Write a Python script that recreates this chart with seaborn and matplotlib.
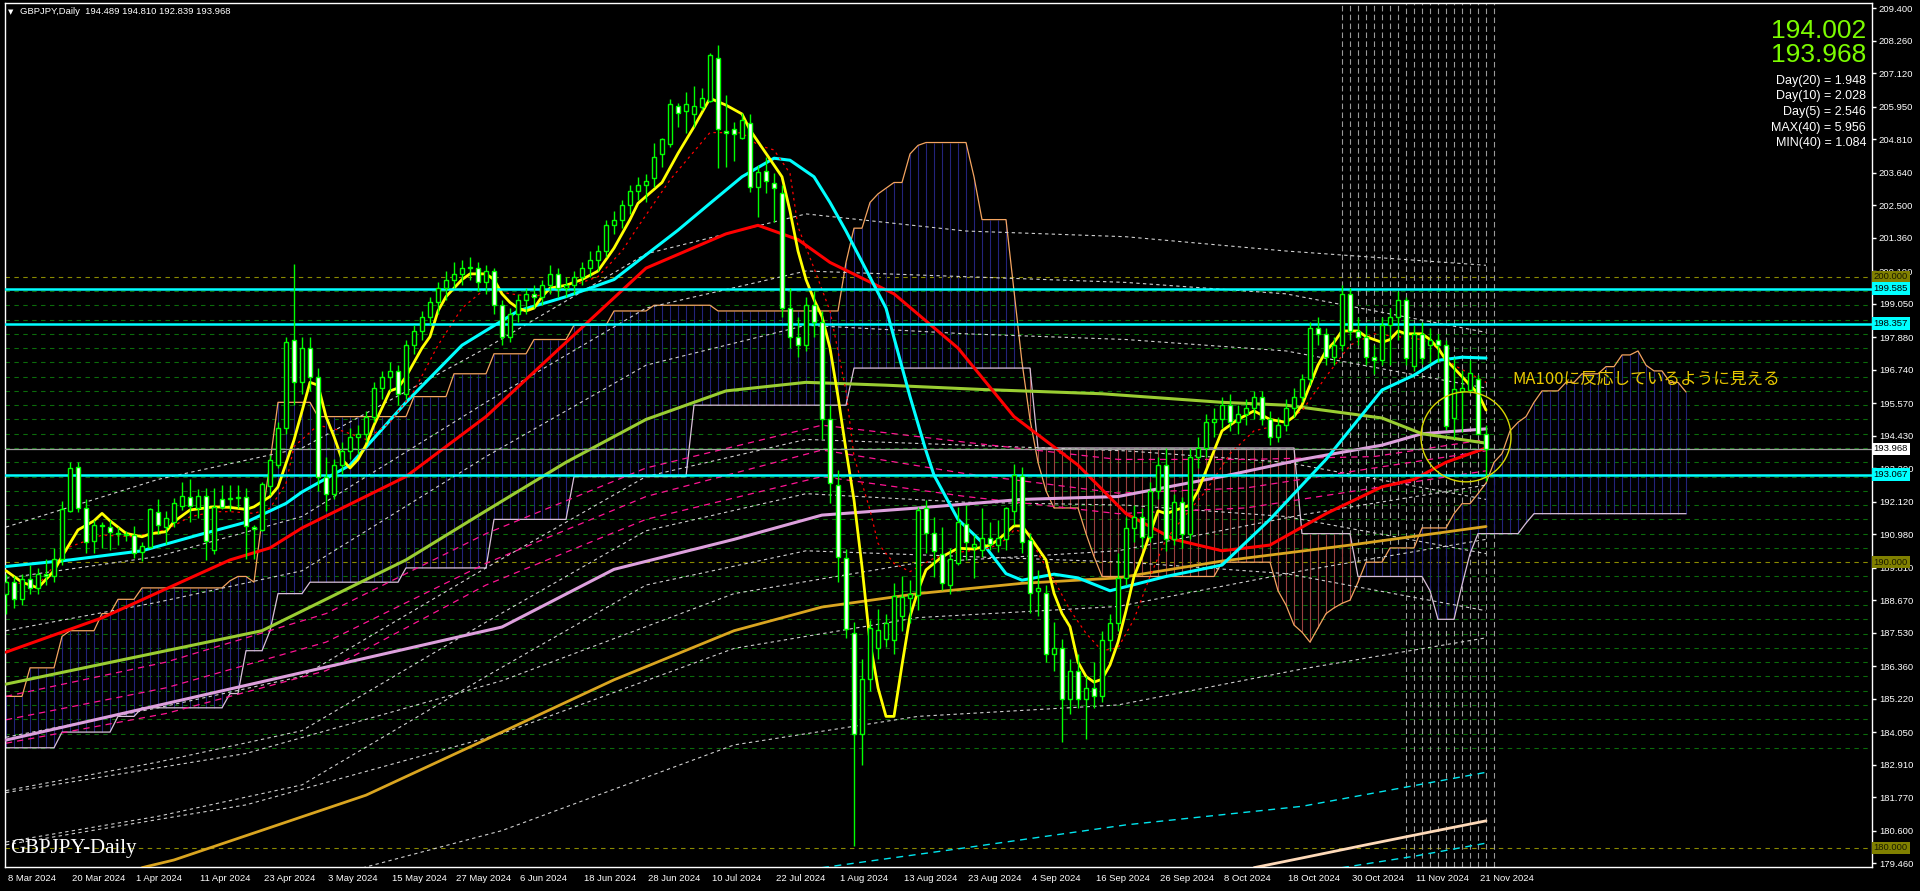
import numpy as np
import pandas as pd
import matplotlib
matplotlib.use("Agg")
import matplotlib.pyplot as plt
import seaborn as sns
from matplotlib.patches import Ellipse
from matplotlib.transforms import ScaledTranslation

sns.set_theme(style="dark")
plt.rcParams['font.family'] = ['Liberation Sans', 'Noto Sans CJK JP', 'DejaVu Sans']

# ---------------- candles (one row per daily bar, 8 Mar .. 22 Nov 2024) ----------------
opens = [188.90, 189.30, 188.70, 189.40, 189.10, 189.60, 189.50, 190.10, 191.80, 193.32,
         191.89, 190.75, 191.32, 191.24, 191.00, 190.98, 190.95, 190.37, 190.54, 191.77,
         191.24, 191.42, 191.98, 192.27, 191.89, 192.33, 190.43, 192.20, 192.22, 192.25,
         192.27, 191.25, 191.13, 192.67, 193.40, 194.69, 197.80, 196.32, 197.50, 196.50,
         193.00, 192.40, 193.40, 193.90, 194.40, 194.50, 195.10, 196.10, 196.50, 196.70,
         195.90, 197.60, 198.10, 198.60, 199.10, 199.60, 199.90, 200.10, 200.30, 200.30,
         199.80, 200.20, 199.00, 197.90, 198.70, 199.20, 199.40, 199.30, 199.70, 200.10,
         199.60, 199.70, 200.00, 200.30, 200.60, 200.90, 201.80, 202.00, 202.50, 203.00,
         203.20, 203.45, 204.30, 204.65, 205.99, 205.80, 205.69, 205.93, 206.17, 207.66,
         205.10, 205.16, 204.87, 205.37, 203.13, 203.72, 203.27, 202.94, 198.90, 197.90,
         197.60, 199.00, 198.40, 195.00, 192.70, 190.14, 187.51, 184.00, 185.90, 186.98,
         187.30, 187.28, 188.13, 188.73, 188.85, 191.89, 191.03, 190.28, 189.21, 189.98,
         191.34, 190.54, 190.43, 190.84, 190.60, 190.80, 191.80, 193.02, 190.78, 188.99,
         188.93, 186.80, 187.00, 185.20, 186.20, 185.20, 185.60, 185.30, 187.28, 187.86,
         189.43, 191.20, 191.60, 190.90, 192.50, 193.40, 190.80, 192.10, 191.00, 193.70,
         194.00, 194.90, 195.00, 195.50, 194.90, 195.20, 195.40, 195.80, 195.00, 194.40,
         194.80, 195.40, 195.80, 196.40, 198.20, 198.00, 197.20, 197.60, 199.40, 198.10,
         197.90, 197.20, 197.08, 198.30, 198.60, 199.20, 196.87, 198.00, 197.60, 197.80,
         197.60, 195.04, 196.01, 196.03, 196.41, 194.489]
highs = [189.60, 189.50, 189.60, 189.90, 189.80, 190.10, 190.50, 192.16, 193.52, 193.50,
         192.21, 191.48, 191.40, 191.48, 191.24, 191.10, 191.28, 190.70, 191.90, 192.20,
         191.78, 192.24, 192.80, 192.90, 192.55, 192.60, 192.60, 192.70, 192.70, 192.70,
         192.60, 191.30, 192.80, 193.75, 194.92, 197.90, 200.45, 197.90, 197.90, 196.80,
         193.70, 193.60, 194.20, 194.70, 194.80, 195.30, 196.30, 196.70, 197.00, 196.90,
         197.80, 198.30, 198.80, 199.30, 199.80, 200.20, 200.50, 200.60, 200.70, 200.50,
         200.40, 200.30, 199.20, 198.90, 199.40, 199.60, 199.70, 199.90, 200.40, 200.30,
         200.00, 200.20, 200.50, 200.90, 201.10, 202.00, 202.30, 202.70, 203.20, 203.50,
         203.60, 204.69, 204.87, 206.21, 206.10, 206.48, 206.68, 206.60, 207.85, 208.12,
         206.36, 205.43, 205.74, 205.69, 203.91, 204.20, 203.62, 203.20, 199.60, 198.60,
         199.30, 199.50, 198.80, 195.50, 193.23, 190.45, 187.90, 186.60, 187.97, 188.35,
         188.20, 189.26, 189.50, 189.38, 191.95, 192.18, 191.60, 191.24, 190.50, 191.95,
         192.00, 190.95, 191.89, 191.42, 191.48, 191.95, 193.44, 193.32, 191.01, 189.73,
         189.20, 187.90, 187.30, 186.60, 186.80, 186.00, 186.50, 187.60, 188.20, 190.31,
         191.60, 192.00, 191.90, 192.80, 193.70, 194.00, 192.40, 192.30, 194.00, 194.40,
         195.20, 195.40, 195.80, 195.90, 195.50, 195.70, 196.00, 196.00, 195.30, 195.10,
         195.70, 196.10, 196.60, 198.40, 198.60, 198.20, 197.90, 199.70, 199.60, 198.60,
         198.30, 197.60, 198.60, 198.90, 199.50, 199.30, 198.30, 198.40, 198.20, 198.00,
         197.80, 197.14, 196.73, 197.08, 196.56, 194.810]
lows = [188.20, 188.40, 188.50, 188.90, 188.90, 189.20, 189.30, 189.90, 191.77, 191.75,
        190.33, 190.31, 190.50, 190.43, 190.60, 190.75, 190.14, 190.05, 190.48, 191.00,
        190.65, 191.24, 191.83, 191.42, 191.55, 190.07, 190.30, 191.85, 191.80, 191.90,
        190.10, 190.10, 191.10, 192.35, 193.29, 194.50, 195.50, 195.90, 196.00, 192.50,
        191.80, 192.20, 193.10, 193.60, 193.80, 194.20, 194.90, 195.70, 196.00, 195.50,
        195.70, 197.30, 197.80, 198.30, 198.70, 199.20, 199.60, 199.70, 199.90, 199.50,
        199.40, 198.70, 197.60, 197.70, 198.40, 198.70, 198.90, 199.00, 199.40, 199.30,
        199.30, 199.40, 199.70, 200.00, 200.20, 200.70, 201.50, 201.70, 202.20, 202.70,
        202.60, 203.15, 203.85, 204.55, 205.25, 205.02, 205.25, 205.84, 206.13, 203.80,
        203.83, 204.06, 204.82, 202.98, 202.10, 202.92, 201.93, 198.60, 197.50, 197.20,
        197.40, 197.90, 194.30, 192.06, 189.32, 187.33, 180.06, 182.90, 185.50, 186.60,
        187.04, 186.80, 187.60, 187.86, 188.33, 190.31, 189.49, 189.03, 188.90, 189.90,
        190.08, 189.43, 190.19, 190.43, 190.37, 190.43, 191.30, 190.31, 188.21, 188.10,
        186.50, 186.20, 183.70, 184.70, 184.90, 183.80, 184.90, 185.10, 186.90, 187.60,
        189.20, 190.70, 190.50, 190.70, 192.20, 190.40, 190.60, 190.50, 190.80, 193.30,
        193.70, 194.40, 194.70, 194.60, 194.50, 194.80, 195.00, 194.80, 194.10, 194.20,
        194.60, 195.10, 195.60, 196.20, 197.60, 196.90, 196.90, 197.40, 197.80, 197.60,
        196.90, 196.60, 196.90, 196.90, 197.80, 196.90, 196.70, 196.95, 197.00, 197.00,
        194.63, 194.34, 194.57, 195.92, 194.52, 192.839]
closes = [189.30, 188.70, 189.40, 189.10, 189.60, 189.50, 190.10, 191.85, 193.30, 191.89,
          190.72, 191.30, 191.28, 191.07, 190.98, 190.95, 190.31, 190.57, 191.85, 191.30,
          191.55, 192.08, 192.33, 191.98, 192.33, 190.75, 191.92, 191.94, 192.26, 192.28,
          191.27, 191.18, 192.73, 193.58, 194.71, 197.70, 196.32, 197.50, 196.50, 193.00,
          192.40, 193.40, 193.90, 194.40, 194.50, 195.10, 196.10, 196.50, 196.70, 195.90,
          197.60, 198.10, 198.60, 199.10, 199.60, 199.90, 200.10, 200.30, 200.30, 199.80,
          200.20, 199.00, 197.90, 198.70, 199.20, 199.40, 199.30, 199.70, 200.10, 199.60,
          199.70, 200.00, 200.30, 200.60, 200.90, 201.80, 202.00, 202.50, 203.00, 203.20,
          203.35, 204.20, 204.81, 206.05, 205.72, 206.05, 205.98, 206.25, 207.75, 205.17,
          205.05, 205.00, 205.49, 203.13, 203.66, 203.35, 203.10, 198.90, 197.90, 197.60,
          199.00, 198.40, 195.00, 192.76, 190.17, 187.65, 184.00, 185.90, 187.68, 187.63,
          187.86, 188.83, 188.79, 188.87, 191.83, 191.01, 190.39, 189.26, 190.11, 191.42,
          190.72, 190.65, 190.84, 190.63, 190.84, 191.89, 193.05, 190.72, 188.91, 189.10,
          186.80, 187.00, 185.20, 186.20, 185.20, 185.60, 185.30, 187.28, 187.86, 189.43,
          191.20, 191.60, 190.90, 192.50, 193.40, 190.80, 192.10, 191.00, 193.70, 194.00,
          194.90, 195.00, 195.50, 194.90, 195.20, 195.40, 195.80, 195.00, 194.40, 194.80,
          195.40, 195.80, 196.40, 198.20, 198.00, 197.20, 197.60, 199.40, 198.10, 197.90,
          197.20, 197.10, 198.30, 198.60, 199.20, 197.14, 198.00, 197.14, 197.80, 197.60,
          194.77, 196.06, 196.09, 196.64, 194.489, 193.968]

date_labels = ["8 Mar 2024", "20 Mar 2024", "1 Apr 2024", "11 Apr 2024", "23 Apr 2024",
               "3 May 2024", "15 May 2024", "27 May 2024", "6 Jun 2024", "18 Jun 2024",
               "28 Jun 2024", "10 Jul 2024", "22 Jul 2024", "1 Aug 2024", "13 Aug 2024",
               "23 Aug 2024", "4 Sep 2024", "16 Sep 2024", "26 Sep 2024", "8 Oct 2024",
               "18 Oct 2024", "30 Oct 2024", "11 Nov 2024", "21 Nov 2024"]
price_ticks = [209.400, 208.260, 207.120, 205.950, 204.810, 203.640, 202.500, 201.360,
               200.190, 199.050, 197.880, 196.740, 195.570, 194.430, 193.290, 192.120,
               190.980, 189.810, 188.670, 187.530, 186.360, 185.220, 184.050, 182.910,
               181.770, 180.600, 179.460]

# ---------------- moving averages, read at sample bars ----------------
ma5_bar = [0, 2, 4, 5, 6, 7, 9, 11, 12, 13, 15, 17, 18, 20, 21, 23, 26, 28, 30, 31, 33, 34,
           35, 36, 38, 39, 40, 41, 42, 43, 44, 45, 46, 47, 48, 49, 50, 51, 52, 53, 54, 55, 56,
           57, 58, 60, 61, 62, 63, 64, 65, 66, 67, 68, 70, 72, 74, 76, 78, 79, 82, 84, 86, 88,
           90, 92, 93, 95, 97, 98, 99, 100, 101, 102, 103, 104, 105, 106, 107, 108, 109, 110,
           111, 112, 113, 114, 115, 117, 119, 121, 123, 124, 126, 127, 128, 130, 131, 132, 133,
           134, 135, 136, 137, 138, 139, 140, 141, 142, 143, 144, 145, 146, 148, 149, 150, 151,
           152, 153, 154, 156, 158, 160, 161, 162, 163, 164, 165, 166, 167, 169, 170, 172, 173,
           174, 175, 177, 178, 179, 180, 181, 182, 183, 184, 185]
ma5_val = [189.7, 189.3, 189.1, 189.4, 189.7, 190.2, 191.13, 191.45, 191.71, 191.45, 191.01,
           190.89, 190.99, 191.07, 191.42, 191.83, 191.94, 191.92, 191.85, 191.94, 192.3,
           192.64, 193.46, 194.28, 196.3, 196.2, 195.1, 194.4, 193.6, 193.3, 193.6, 194.1,
           194.8, 195.4, 196.0, 196.1, 196.5, 197.0, 197.5, 197.9, 198.8, 199.3, 199.6, 199.9,
           200.1, 200.1, 199.9, 199.4, 199.1, 198.9, 198.8, 198.9, 199.3, 199.6, 199.7, 199.9,
           200.2, 201.0, 202.0, 202.57, 203.3, 204.32, 205.25, 206.25, 206.01, 205.7, 205.14,
           204.32, 203.5, 202.3, 200.9, 199.9, 199.2, 198.6, 197.5, 195.8, 193.93, 192.18,
           189.84, 187.2, 185.6, 184.6, 184.6, 186.4, 188.1, 189.0, 189.73, 190.19, 190.49,
           190.46, 190.6, 190.78, 191.27, 191.27, 190.89, 190.08, 188.91, 188.2, 187.74,
           186.5, 186.0, 185.8, 185.9, 186.4, 187.2, 188.3, 189.5, 190.2, 191.0, 191.8, 191.7,
           191.8, 192.0, 192.5, 193.2, 193.9, 194.6, 194.8, 195.0, 195.3, 195.0, 194.9, 195.1,
           195.5, 196.2, 196.9, 197.4, 197.7, 198.1, 198.1, 197.9, 197.7, 197.8, 198.1, 198.0,
           198.0, 197.8, 197.5, 197.08, 196.8, 196.5, 196.2, 195.92, 195.33]
ma10_bar = [0, 4, 8, 12, 16, 20, 23, 26, 28, 31, 33, 35, 36, 39, 42, 45, 48, 51, 54, 57, 60,
            63, 66, 70, 74, 77, 79, 83, 88, 92, 94, 96, 98, 99, 101, 103, 105, 106, 108, 109,
            111, 113, 116, 118, 123, 125, 126, 128, 129, 131, 133, 135, 137, 139, 141, 143,
            145, 147, 150, 153, 156, 159, 162, 165, 168, 171, 174, 177, 179, 181, 183, 185]
ma10_val = [189.3, 189.2, 190.54, 190.95, 190.89, 191.13, 191.59, 191.77, 191.77, 191.71,
            191.89, 192.76, 194.05, 194.8, 194.6, 194.3, 194.9, 196.0, 197.6, 198.9, 199.6,
            199.4, 199.3, 199.6, 200.0, 200.9, 201.75, 203.39, 205.05, 205.04, 204.61, 204.44,
            203.62, 201.75, 200.3, 198.8, 196.0, 193.7, 191.83, 190.66, 189.96, 189.67,
            190.14, 190.31, 190.49, 190.8, 191.13, 191.01, 190.31, 189.38, 188.33, 187.51,
            186.9, 187.0, 188.0, 189.5, 190.8, 191.5, 192.5, 193.8, 194.6, 194.8, 195.3, 196.5,
            197.6, 198.0, 197.9, 197.8, 197.5, 196.9, 196.6, 196.3]
ma20_bar = [0, 8, 17, 24, 30, 35, 37, 43, 50, 57, 64, 70, 76, 84, 88, 92, 96, 98, 101, 103,
            105, 110, 113, 115, 116, 119, 122, 125, 127, 131, 134, 138, 145, 152, 158, 165,
            172, 176, 179, 182, 185]
ma20_val = [189.85, 190.08, 190.4, 190.95, 191.4, 192.06, 192.46, 193.4, 195.6, 197.6,
            198.8, 199.3, 199.9, 201.63, 202.57, 203.5, 204.15, 204.08, 203.5, 202.6,
            201.6, 198.9, 195.8, 193.9, 193.05, 191.5, 190.7, 189.6, 189.37, 189.58,
            189.45, 189.0, 189.5, 189.9, 191.5, 193.6, 196.03, 196.55, 197.07, 197.18, 197.15]
ma50_bar = [0, 12, 28, 33, 37, 50, 60, 70, 80, 90, 94, 99, 103, 111, 119, 126, 134, 140,
            146, 152, 158, 165, 172, 176, 180, 185]
ma50_val = [186.85, 188.05, 190.08, 190.5, 191.2, 193.0, 195.1, 197.7, 200.3, 201.5, 201.8,
            201.3, 200.5, 199.4, 197.5, 195.1, 193.4, 191.7, 190.8, 190.4, 190.6, 191.7,
            192.64, 192.9, 193.5, 194.0]
ma100_bar = [0, 32, 50, 60, 70, 80, 90, 100, 110, 122, 137, 152, 160, 172, 177, 185]
ma100_val = [185.73, 187.6, 190.08, 191.8, 193.5, 195.0, 196.0, 196.3, 196.2, 196.05,
             195.9, 195.6, 195.5, 195.05, 194.5, 194.17]
ma200_bar = [0, 62, 76, 91, 102, 114, 127, 139, 152, 162, 172, 177, 185]
ma200_val = [183.77, 187.73, 189.75, 190.8, 191.65, 191.9, 192.2, 192.3, 193.0, 193.6,
             194.1, 194.5, 194.67]
ma300_bar = [17, 21, 45, 62, 76, 91, 102, 114, 127, 139, 152, 168, 185]
ma300_val = [179.3, 179.57, 181.84, 184.05, 185.88, 187.6, 188.43, 188.9, 189.26, 189.45,
             190.04, 190.6, 191.25]
ma500_bar = [156, 162, 170, 178, 185]
ma500_val = [179.3, 179.64, 180.1, 180.55, 180.94]
cyan_dash1_bar = [102, 120, 140, 162, 185]
cyan_dash1_val = [179.3, 180.0, 180.8, 181.45, 182.64]
cyan_dash2_bar = [167, 176, 185]
cyan_dash2_val = [179.3, 179.7, 180.16]

# envelope lines (white dashed / pink dashed), read at sample bars
env_bar = [0, 19, 37, 60, 80, 100, 120, 140, 160, 185]
env_white = [
    [191.23, 192.9, 194.0, 197.5, 200.8, 202.2, 201.6, 201.4, 200.9, 200.4],
    [189.44, 190.2, 191.6, 195.6, 198.9, 200.2, 200.0, 199.8, 199.4, 198.05],
    [187.6, 188.6, 189.7, 193.7, 196.9, 198.3, 198.0, 197.8, 197.4, 196.1],
    [183.87, 184.9, 186.0, 189.8, 193.0, 194.3, 194.1, 193.9, 193.5, 192.2],
    [182.0, 183.0, 184.1, 187.9, 191.1, 192.4, 192.1, 192.0, 191.6, 190.3],
    [180.2, 181.1, 182.2, 186.0, 189.2, 190.4, 190.2, 190.0, 189.6, 188.3],
]
env_low_bar = [0, 30, 62, 91, 114, 139, 162, 185]
env_low_white = [
    [181.93, 183.3, 185.85, 188.9, 189.98, 190.4, 191.66, 192.7],
    [180.1, 181.5, 184.0, 186.98, 188.06, 188.45, 189.7, 190.8],
    [176.8, 178.2, 180.6, 183.6, 184.6, 185.0, 186.26, 187.35],
]
env_pink_bar = [0, 20, 40, 60, 80, 102, 120, 139, 155, 171, 185]
env_pink = [
    [184.48, 185.6, 187.2, 189.96, 192.3, 193.93, 193.1, 192.42, 192.6, 193.3, 193.9],
    [183.66, 184.7, 186.2, 189.2, 191.5, 193.0, 192.3, 191.7, 191.9, 192.6, 193.2],
    [185.3, 186.5, 188.2, 191.0, 193.3, 194.8, 194.2, 193.6, 193.6, 193.7, 194.3],
]

# ichimoku spans as (first bar, value) runs, the cloud runs to bar 210
span_a_runs = [(0, 185.3), (3, 186.3), (7, 187.4), (8, 187.6), (12, 188.2), (14, 188.7),
               (17, 189.1), (28, 189.35), (29, 189.5), (31, 189.3), (32, 191.5), (33, 193.5),
               (34, 195.6), (39, 195.1), (51, 195.8), (56, 196.6), (61, 197.3), (66, 197.8),
               (71, 198.3), (76, 198.8), (81, 199.0), (89, 198.8), (105, 200.5), (106, 201.7),
               (108, 202.6), (109, 202.9), (110, 203.1), (111, 203.3), (113, 204.3),
               (114, 204.6), (115, 204.7), (121, 203.5), (122, 202.0), (126, 199.5),
               (127, 197.0), (128, 195.0), (129, 193.5), (130, 192.5), (131, 191.9),
               (135, 191.0), (136, 190.2), (137, 189.5), (152, 190.0), (159, 189.0),
               (160, 188.5), (161, 187.8), (162, 187.55), (163, 187.2), (164, 187.7),
               (165, 188.2), (166, 188.4), (167, 188.56), (168, 188.67), (169, 189.3),
               (170, 190.0), (173, 190.5), (177, 191.2), (181, 191.7), (182, 192.05),
               (184, 192.4), (185, 192.77), (186, 193.5), (187, 193.8), (188, 194.6),
               (189, 194.9), (190, 195.1), (191, 195.6), (192, 196.0), (195, 196.3),
               (197, 196.6), (200, 196.85), (202, 197.26), (204, 197.4), (205, 196.9),
               (206, 196.7), (208, 196.3), (210, 195.96)]
span_b_runs = [(0, 183.5), (7, 184.05), (14, 184.6), (17, 184.9), (28, 185.4), (30, 186.9),
               (33, 187.6), (34, 188.9), (38, 189.3), (50, 189.8), (61, 191.5), (71, 193.0),
               (86, 195.5), (106, 196.8), (129, 194.0), (162, 191.0), (169, 189.5),
               (178, 189.0), (179, 188.0), (182, 189.2), (183, 190.3), (184, 191.0),
               (190, 191.37), (191, 191.7)]
cloud_end = 210

green_levels = [v for v in np.arange(183.5, 199.6, 0.5) if abs(v - 190.0) > 0.01]
olive_levels = [200.0, 190.0, 180.0]
cyan_levels = [199.585, 198.357, 193.067]
bid = 193.968

# ---------------- figure ----------------
W, H = 1920, 891
fig = plt.figure(figsize=(W / 100, H / 100), dpi=100, facecolor='black')
ax = fig.add_axes([5 / W, 24 / H, 1867 / W, 864 / H])
ax.set_facecolor('black')
ax.set_xlim(-0.125, 233.25)
ax.set_ylim(179.324, 209.587)
ax.grid(False)
for s in ax.spines.values():
    s.set_color('white')
    s.set_linewidth(1)


def runs_to_series(runs, end):
    starts = [r[0] for r in runs] + [end + 1]
    vals = []
    for k, (b, v) in enumerate(runs):
        vals += [v] * (starts[k + 1] - b)
    return np.array(vals)


def draw(xs, ys, col, lw, dash=None, z=3):
    sns.lineplot(x=xs, y=ys, ax=ax, color=col, lw=lw, zorder=z)
    if dash:
        ax.get_lines()[-1].set_dashes(dash)


# horizontal levels
for v in green_levels:
    ax.axhline(v, color='#0b6b0b', lw=0.8, dashes=(4, 4), zorder=0.5)
for v in olive_levels:
    ax.axhline(v, color='#8a8a00', lw=0.8, dashes=(4, 4), zorder=0.5)

# vertical dashed marks over the last weeks
for b in range(167, 187):
    lo = 179.324 if b >= 175 else 190.0
    ax.vlines(b, lo, 209.587, color='#9a9a9a', lw=0.8, linestyles=(0, (5, 3)), zorder=0.6)

# ichimoku cloud
span_a = runs_to_series(span_a_runs, cloud_end)
span_b = runs_to_series(span_b_runs, cloud_end)
cloud = pd.DataFrame({'bar': np.arange(cloud_end + 1), 'a': span_a, 'b': span_b})
bull = cloud['a'] >= cloud['b']
ax.vlines(cloud['bar'][bull], cloud['b'][bull], cloud['a'][bull], color='#23237a', lw=0.8, zorder=1)
ax.vlines(cloud['bar'][~bull], cloud['a'][~bull], cloud['b'][~bull], color='#9a4040', lw=0.8, zorder=1)
sns.lineplot(data=cloud, x='bar', y='a', ax=ax, color='#f4a460', lw=0.9, zorder=2)
sns.lineplot(data=cloud, x='bar', y='b', ax=ax, color='#d8bfd8', lw=0.9, zorder=2)

# envelopes
for vals in env_white:
    draw(env_bar, vals, '#d0d0d0', 0.8, (3, 3), 2.5)
for vals in env_low_white:
    draw(env_low_bar, vals, '#d0d0d0', 0.8, (3, 3), 2.5)
for vals in env_pink:
    draw(env_pink_bar, vals, '#ff1493', 0.9, (5, 4), 2.5)

# moving averages
draw(ma300_bar, ma300_val, '#daa520', 2.0)
draw(ma500_bar, ma500_val, '#ffdab9', 2.0)
draw(cyan_dash1_bar, cyan_dash1_val, '#00e5ee', 1.0, (5, 4))
draw(cyan_dash2_bar, cyan_dash2_val, '#00e5ee', 1.0, (5, 4))
draw(ma200_bar, ma200_val, '#dda0dd', 2.2)
draw(ma100_bar, ma100_val, '#9acd32', 2.2)
draw(ma50_bar, ma50_val, '#ff0000', 2.2)
draw(ma20_bar, ma20_val, '#00ffff', 2.2)
draw(ma10_bar, ma10_val, '#ff0000', 0.9, (2, 3))
draw(ma5_bar, ma5_val, '#ffff00', 2.0)

for v in cyan_levels:
    ax.axhline(v, color='#00ffff', lw=1.8, zorder=4)
ax.axhline(bid, color='#a0a0a0', lw=0.9, zorder=4)

# candles
bars = pd.DataFrame({'o': opens, 'h': highs, 'l': lows, 'c': closes})
bars['i'] = np.arange(len(bars))
up = bars['c'] >= bars['o']
ax.vlines(bars['i'], bars['l'], bars['h'], color='#00ff00', lw=1, zorder=5)
body_lo = bars[['o', 'c']].min(axis=1)
body_h = (bars['c'] - bars['o']).abs().clip(lower=0.03)
ax.bar(bars['i'], body_h, bottom=body_lo, width=0.62,
       color=np.where(up, 'black', 'white'), edgecolor='#00ff00', linewidth=1, zorder=6)

# annotation
ax.add_patch(Ellipse((182.5, 194.39), 11.25, 3.15, fill=False, ec='#d8d800', lw=1, zorder=7))
ax.text(188.25, 196.42, 'MA100に反応しているように見える', color='#e8c800', fontsize=12,
        va='center', ha='left', family=['Noto Sans CJK JP', 'DejaVu Sans'], zorder=8)

# axes ticks
ax.yaxis.tick_right()
ax.set_yticks(price_ticks)
ax.set_yticklabels([f'{v:.3f}' for v in price_ticks])
ax.tick_params(axis='y', colors='white', labelsize=6.8, length=3, width=1, pad=2)
ax.set_xticks(range(0, 185, 8))
ax.set_xticklabels(date_labels)
ax.tick_params(axis='x', colors='white', labelsize=6.8, length=3, width=1, pad=2)
for lbl in ax.get_xticklabels():
    lbl.set_horizontalalignment('left')
    lbl.set_transform(lbl.get_transform() + ScaledTranslation(2 / 100, 0, fig.dpi_scale_trans))
ax.set_xlabel('')
ax.set_ylabel('')

# price tags on the right scale
tags = [(200.0, '200.000', '#808000', '#1a1a00'), (190.0, '190.000', '#808000', '#1a1a00'),
        (180.0, '180.000', '#808000', '#1a1a00'), (199.585, '199.585', '#00ffff', 'black'),
        (198.357, '198.357', '#00ffff', 'black'), (193.067, '193.067', '#00ffff', 'black'),
        (bid, '193.968', 'white', 'black')]
for v, t, bg, fg in tags:
    ax.text(1.0009, v, t, transform=ax.get_yaxis_transform(), color=fg, fontsize=6.8,
            va='center', ha='left', clip_on=False, zorder=10,
            bbox=dict(boxstyle='square,pad=0.18', fc=bg, ec='none'))

# header and info texts
fig.text(8 / W, 1 - 12 / H, '▼', color='white', fontsize=5, va='center', family='DejaVu Sans')
fig.text(20 / W, 1 - 12 / H, 'GBPJPY,Daily  194.489 194.810 192.839 193.968', color='white',
         fontsize=6.8, va='center')
fig.text(10 / W, 1 - 849 / H, 'GBPJPY-Daily', color='white', fontsize=15, va='center',
         family='Liberation Serif')
fig.text(1866 / W, 1 - 31 / H, '194.002', color='#7cfc00', fontsize=19, va='center', ha='right')
fig.text(1866 / W, 1 - 55 / H, '193.968', color='#7cfc00', fontsize=19, va='center', ha='right')
info = ['Day(20) = 1.948', 'Day(10) = 2.028', 'Day(5) = 2.546', 'MAX(40) = 5.956',
        'MIN(40) = 1.084']
for k, t in enumerate(info):
    fig.text(1866 / W, 1 - (81 + 15.5 * k) / H, t, color='white', fontsize=9, va='center',
             ha='right')

fig.savefig('out.png', dpi=100, facecolor='black')
